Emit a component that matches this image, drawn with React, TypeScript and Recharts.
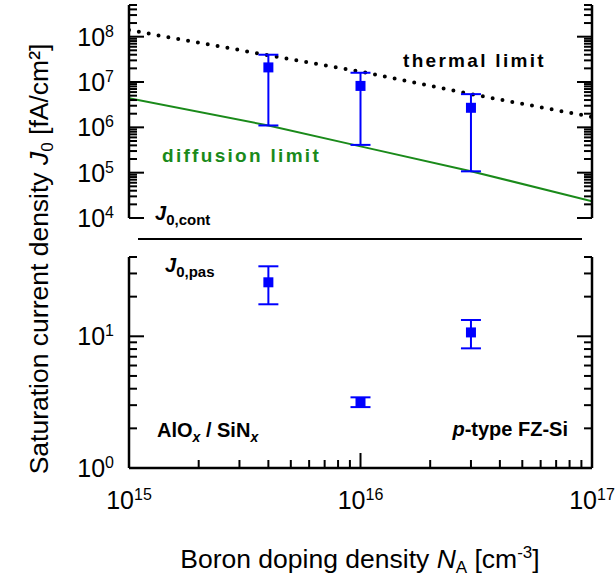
import { ComposedChart, Scatter, Line, XAxis, YAxis, ErrorBar } from "recharts";

const FONT = "'Liberation Sans', Arial, Helvetica, sans-serif";
const BLUE = "#0000ff";
const GREEN = "#1a8a1a";

// measured samples: boron doping density (cm^-3)
const dopingLevels = [4e15, 1e16, 3e16];

// contact recombination J0,cont (fA/cm²)
const j0Cont = [2.1e7, 8.2e6, 2.7e6];
const j0ContLow = [1.1e6, 4.1e5, 1.07e5];
const j0ContHigh = [4.0e7, 1.6e7, 5.4e6];

// passivated surface J0,pas (fA/cm²)
const j0Pas = [25.7, 3.17, 10.7];
const j0PasLow = [17.5, 2.9, 8.1];
const j0PasHigh = [34, 3.44, 13.3];

// model curves
const limitDoping = [1e15, 4e15, 1e16, 3e16, 1e17];
const thermalLimit = [1.4e8, 3.9e7, 1.7e7, 5.4e6, 1.7e6];
const diffusionLimit = [4.4e6, 1.1e6, 3.8e5, 1.08e5, 2.33e4];

// axis ranges
const xDomain = [1e15, 1e17];
const topDomain = [1e4, 5e8];
const bottomDomain = [1, 40];

const logTicks = (lo: number, hi: number) => {
  const out: number[] = [];
  for (let e = Math.floor(Math.log10(lo)); e <= Math.ceil(Math.log10(hi)); e++) {
    for (let k = 1; k < 10; k++) {
      const v = k * Math.pow(10, e);
      if (v >= lo * 0.999 && v <= hi * 1.001) out.push(v);
    }
  }
  return out;
};

const xTicks = logTicks(xDomain[0], xDomain[1]);
const topTicks = logTicks(topDomain[0], topDomain[1]);
const bottomTicks = logTicks(bottomDomain[0], bottomDomain[1]);

const isMajor = (v: number) => Math.abs(Math.log10(v) - Math.round(Math.log10(v))) < 1e-6;
const expOf = (v: number) => Math.round(Math.log10(v));

const contData = dopingLevels.map((n, i) => ({
  n,
  j: j0Cont[i],
  err: [j0Cont[i] - j0ContLow[i], j0ContHigh[i] - j0Cont[i]],
}));
const pasData = dopingLevels.map((n, i) => ({
  n,
  j: j0Pas[i],
  err: [j0Pas[i] - j0PasLow[i], j0PasHigh[i] - j0Pas[i]],
}));
const thermalData = limitDoping.map((n, i) => ({ n, j: thermalLimit[i] }));
const diffusionData = limitDoping.map((n, i) => ({ n, j: diffusionLimit[i] }));

const MAJOR = 15;
const MINOR = 8;

const LeftTick = (props: any) => {
  const { x, y, payload } = props;
  const major = isMajor(payload.value);
  return (
    <g>
      <line x1={x} x2={x + (major ? MAJOR : MINOR)} y1={y} y2={y} stroke="#000" strokeWidth={2} />
      {major && (
        <text x={x - 15} y={y + 9} textAnchor="end" fontSize={25} fontFamily={FONT} fill="#000">
          10
          <tspan fontSize={16} dy={-9}>
            {expOf(payload.value)}
          </tspan>
        </text>
      )}
    </g>
  );
};

const RightTick = (props: any) => {
  const { x, y, payload } = props;
  const major = isMajor(payload.value);
  return <line x1={x} x2={x - (major ? MAJOR : MINOR)} y1={y} y2={y} stroke="#000" strokeWidth={2} />;
};

const TopTick = (props: any) => {
  const { x, y, payload } = props;
  const major = isMajor(payload.value);
  return <line x1={x} x2={x} y1={y} y2={y + (major ? MAJOR : MINOR)} stroke="#000" strokeWidth={2} />;
};

const BottomTick = (props: any) => {
  const { x, y, payload } = props;
  const major = isMajor(payload.value);
  return (
    <g>
      <line x1={x} x2={x} y1={y} y2={y - (major ? MAJOR : MINOR)} stroke="#000" strokeWidth={2} />
      {major && (
        <text x={x} y={y + 41} textAnchor="middle" fontSize={25} fontFamily={FONT} fill="#000">
          10
          <tspan fontSize={16} dy={-9}>
            {expOf(payload.value)}
          </tspan>
        </text>
      )}
    </g>
  );
};

const squareMarker = (p: any) => <rect x={p.cx - 5} y={p.cy - 5} width={10} height={10} fill={BLUE} />;

const axisLine = { stroke: "#000", strokeWidth: 2.5 };

const App = () => {
  return (
    <div style={{ position: "absolute", left: 0, top: 0, width: 616, height: 576, background: "#fff" }}>
      {/* upper panel: contact J0 with thermal and diffusion limits */}
      <ComposedChart
        width={616}
        height={240}
        margin={{ top: 5, right: 0, left: 69, bottom: 22 }}
        style={{ position: "absolute", left: 0, top: 0 }}
      >
        <XAxis
          dataKey="n"
          type="number"
          scale="log"
          domain={xDomain}
          allowDataOverflow
          orientation="top"
          height={0}
          ticks={xTicks}
          interval={0}
          tickSize={0}
          tickMargin={0}
          tick={TopTick}
          tickLine={false}
          axisLine={axisLine}
        />
        <YAxis
          dataKey="j"
          type="number"
          scale="log"
          domain={topDomain}
          allowDataOverflow
          width={60}
          ticks={topTicks}
          interval={0}
          tickSize={0}
          tickMargin={0}
          tick={LeftTick}
          tickLine={false}
          axisLine={axisLine}
        />
        <YAxis
          yAxisId="right"
          orientation="right"
          type="number"
          scale="log"
          domain={topDomain}
          allowDataOverflow
          width={24}
          ticks={topTicks}
          interval={0}
          tickSize={0}
          tickMargin={0}
          tick={RightTick}
          tickLine={false}
          axisLine={axisLine}
        />
        <Line
          data={diffusionData}
          dataKey="j"
          stroke={GREEN}
          strokeWidth={2}
          dot={false}
          activeDot={false}
          isAnimationActive={false}
        />
        <Line
          data={thermalData}
          dataKey="j"
          stroke="#000"
          strokeWidth={4}
          strokeDasharray="0 10"
          strokeLinecap="round"
          dot={false}
          activeDot={false}
          isAnimationActive={false}
        />
        <Scatter data={contData} dataKey="j" shape={squareMarker} isAnimationActive={false}>
          <ErrorBar dataKey="err" direction="y" width={10} stroke={BLUE} strokeWidth={2} isAnimationActive={false} />
        </Scatter>
      </ComposedChart>

      {/* lower panel: passivated J0 */}
      <ComposedChart
        width={616}
        height={336}
        margin={{ top: 17, right: 0, left: 69, bottom: 48 }}
        style={{ position: "absolute", left: 0, top: 240 }}
      >
        <XAxis
          dataKey="n"
          type="number"
          scale="log"
          domain={xDomain}
          allowDataOverflow
          height={60}
          ticks={xTicks}
          interval={0}
          tickSize={0}
          tickMargin={0}
          tick={BottomTick}
          tickLine={false}
          axisLine={axisLine}
        />
        <YAxis
          dataKey="j"
          type="number"
          scale="log"
          domain={bottomDomain}
          allowDataOverflow
          width={60}
          ticks={bottomTicks}
          interval={0}
          tickSize={0}
          tickMargin={0}
          tick={LeftTick}
          tickLine={false}
          axisLine={axisLine}
        />
        <YAxis
          yAxisId="right"
          orientation="right"
          type="number"
          scale="log"
          domain={bottomDomain}
          allowDataOverflow
          width={24}
          ticks={bottomTicks}
          interval={0}
          tickSize={0}
          tickMargin={0}
          tick={RightTick}
          tickLine={false}
          axisLine={axisLine}
        />
        <Scatter data={pasData} dataKey="j" shape={squareMarker} isAnimationActive={false}>
          <ErrorBar dataKey="err" direction="y" width={10} stroke={BLUE} strokeWidth={2} isAnimationActive={false} />
        </Scatter>
      </ComposedChart>

      {/* labels and annotations */}
      <svg
        width={616}
        height={576}
        style={{ position: "absolute", left: 0, top: 0, pointerEvents: "none" }}
        fontFamily={FONT}
      >
        <line x1={138} x2={582} y1={239} y2={239} stroke="#000" strokeWidth={2} />

        <text
          x={48}
          y={259}
          transform="rotate(-90 48 259)"
          textAnchor="middle"
          fontSize={26.5}
          fill="#000"
        >
          Saturation current density <tspan fontStyle="italic">J</tspan>
          <tspan fontSize={17} dy={5}>0</tspan>
          <tspan dy={-5}> [fA/cm²]</tspan>
        </text>

        <text x={360} y={568} textAnchor="middle" fontSize={26.5} fill="#000">
          Boron doping density <tspan fontStyle="italic">N</tspan>
          <tspan fontSize={17} dy={5}>A</tspan>
          <tspan dy={-5}> [cm</tspan>
          <tspan fontSize={17} dy={-10}>-3</tspan>
          <tspan dy={10}>]</tspan>
        </text>

        <text x={403} y={67} fontSize={19} fontWeight="bold" letterSpacing={2.3} fill="#000">
          thermal limit
        </text>
        <text x={162} y={162} fontSize={19} fontWeight="bold" letterSpacing={2.3} fill={GREEN}>
          diffusion limit
        </text>

        <text x={155} y={220} fontSize={20} fontWeight="bold" fill="#000">
          <tspan fontStyle="italic">J</tspan>
          <tspan fontSize={15} dy={5}>0,cont</tspan>
        </text>
        <text x={165} y={272} fontSize={20} fontWeight="bold" fill="#000">
          <tspan fontStyle="italic">J</tspan>
          <tspan fontSize={15} dy={5}>0,pas</tspan>
        </text>

        <text x={157} y={437} fontSize={20} fontWeight="bold" fill="#000">
          AlO<tspan fontSize={14} fontStyle="italic" dy={5}>x</tspan>
          <tspan dy={-5}> / SiN</tspan>
          <tspan fontSize={14} fontStyle="italic" dy={5}>x</tspan>
        </text>
        <text x={568} y={436} textAnchor="end" fontSize={20} fontWeight="bold" fill="#000">
          <tspan fontStyle="italic">p</tspan>-type FZ-Si
        </text>
      </svg>
    </div>
  );
};

export default App;
